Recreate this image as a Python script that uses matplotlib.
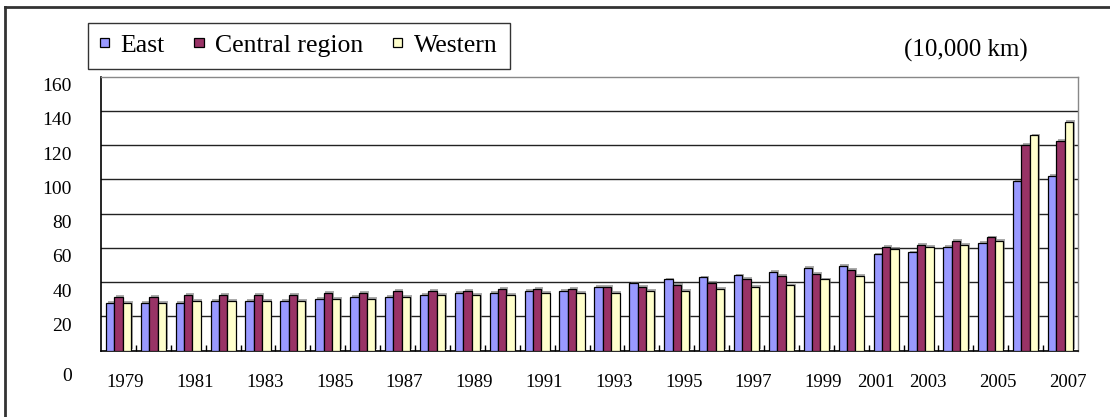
import matplotlib as mpl
import matplotlib.pyplot as plt
import numpy as np
from matplotlib import patheffects, transforms
from matplotlib.lines import Line2D

mpl.rcParams["font.family"] = ["Liberation Serif", "DejaVu Serif"]

# 2001 is not in the source table
years = list(range(1979, 2001)) + list(range(2002, 2008))
east = [28.0, 28.0, 28.0, 29.2, 29.2, 29.2, 30.4, 31.4, 31.4, 32.5,
        33.7, 33.7, 34.9, 34.9, 37.1, 39.4, 41.7, 42.9, 44.0, 46.1,
        48.3, 49.5, 56.3, 57.5, 60.7, 62.9, 98.9, 102.2]
central = [31.4, 31.4, 32.5, 32.5, 32.5, 32.5, 33.7, 33.7, 34.8, 34.9,
           34.9, 36.0, 36.0, 36.0, 37.1, 37.1, 38.3, 39.5, 41.8, 43.7,
           45.0, 47.3, 60.6, 61.9, 64.1, 66.2, 120.3, 122.6]
western = [28.0, 28.0, 29.2, 29.2, 29.2, 29.2, 30.4, 30.4, 31.4, 32.5,
           32.5, 32.5, 33.7, 33.7, 33.6, 34.9, 34.9, 36.0, 37.1, 38.1,
           41.6, 43.8, 59.6, 60.7, 61.9, 64.1, 125.8, 133.7]
series_names = ["East", "Central region", "Western"]
series_colors = ["#9999FF", "#993366", "#FFFFCC"]
label_years = list(range(1979, 2008, 2))
y_ticks = list(range(0, 161, 20))
unit_text = "(10,000 km)"


fig = plt.figure(figsize=(11.1, 4.17), dpi=100)
ax = fig.add_axes([101 / 1110, 1 - 350.7 / 417, 977 / 1110, 274 / 417])

idx = np.arange(len(years))
width = 0.24
shadow = [
    patheffects.SimplePatchShadow(offset=(1.2, 1.2), shadow_rgbFace="0.45", alpha=0.6),
    patheffects.Normal(),
]
for i, (vals, name, color) in enumerate(zip([east, central, western], series_names, series_colors)):
    bars = ax.bar(idx + (i - 1) * width, vals, width, color=color, edgecolor="black",
                  linewidth=0.9, label=name, zorder=3)
    for b in bars:
        b.set_path_effects(shadow)

ax.set_xlim(-0.5, len(years) - 0.5)
ax.set_ylim(0, 160)

# horizontal grid
for v in y_ticks[1:-1]:
    ax.axhline(v, color="#222222", linewidth=1.0, zorder=1)

for side in ["left", "bottom"]:
    ax.spines[side].set_color("black")
    ax.spines[side].set_linewidth(1.2)
for side in ["top", "right"]:
    ax.spines[side].set_color("#888888")
    ax.spines[side].set_linewidth(1.0)

# y ticks, labels sit a little below their grid line (in px at 100 dpi)
ax.set_yticks(y_ticks)
ax.set_yticklabels([str(v) for v in y_ticks], fontsize=14)
ax.tick_params(axis="y", length=0, pad=21)
for v, lab in zip(y_ticks, ax.get_yticklabels()):
    dy = -8 / 100 if v else -24 / 100
    lab.set_transform(lab.get_transform() + transforms.ScaledTranslation(0, dy, fig.dpi_scale_trans))

# x labels every other year, 2001 falls between 2000 and 2002
label_pos = np.interp(label_years, years, idx) + 0.2
ax.set_xticks(label_pos)
ax.set_xticklabels([str(y) for y in label_years], fontsize=13.5)
ax.tick_params(axis="x", length=0, pad=17)
ax.set_xticks(idx[1:] - 0.5, minor=True)
ax.tick_params(axis="x", which="minor", direction="in", length=4, width=1, color="black")

handles = [plt.Rectangle((0, 0), 1, 1, facecolor=c, edgecolor="black", linewidth=0.9)
           for c in series_colors]
leg = ax.legend(handles, series_names, loc="upper left", bbox_to_anchor=(-0.0135, 1.197),
                ncol=3, fontsize=18.5, frameon=True, fancybox=False, borderaxespad=0,
                handlelength=0.36, handleheight=0.17, handletextpad=0.45,
                columnspacing=1.15, borderpad=0.47)
leg.get_frame().set_edgecolor("black")
leg.get_frame().set_linewidth(1.0)

ax.text(0.949, 1.097, unit_text, transform=ax.transAxes, ha="right", va="center", fontsize=18)

# outer frame (top and left edges only)
fig.add_artist(Line2D([5 / 1110, 5 / 1110], [0, 1 - 7 / 417], color="#333333", linewidth=2,
                      transform=fig.transFigure))
fig.add_artist(Line2D([5 / 1110, 1], [1 - 7 / 417, 1 - 7 / 417], color="#333333", linewidth=2,
                      transform=fig.transFigure))

fig.savefig("out.png", dpi=100)
